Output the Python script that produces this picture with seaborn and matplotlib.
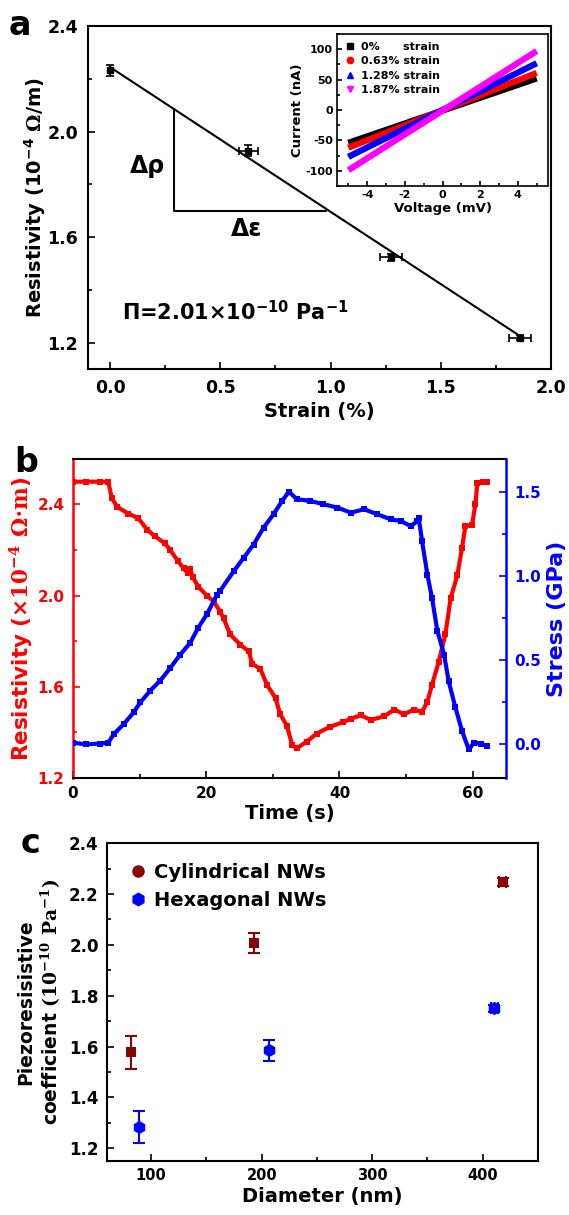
import matplotlib
matplotlib.use('Agg')
import matplotlib.pyplot as plt
import seaborn as sns
from matplotlib.lines import Line2D
from matplotlib.ticker import MultipleLocator

# ---------------- panel a : resistivity vs strain ----------------
strain = [0.0, 0.627, 1.276, 1.859]
resist = [2.232, 1.928, 1.523, 1.219]
strain_err = [0.0, 0.043, 0.05, 0.05]
resist_err = [0.02, 0.02, 0.012, 0.01]
fit_x = [0.0, 1.87]
fit_y = [2.244, 1.219]
tri_x = [0.29, 0.29, 0.98]
tri_y = [2.085, 1.70, 1.70]

# inset : I-V curves
iv_voltage = [-5.0, 5.0]
cur_0 = [-54, 52]
cur_063 = [-62, 61]
cur_128 = [-77, 77]
cur_187 = [-99, 97]
iv_labels = ['0%      strain', '0.63% strain', '1.28% strain', '1.87% strain']
iv_colors = ['black', 'red', 'blue', 'magenta']
iv_markers = ['s', 'o', '^', 'v']

# ---------------- panel b : resistivity / stress vs time ----------------
res_t = [0, 2, 4, 5.3, 5.8, 6.6, 8.3, 9.8, 11.1, 12.3, 13.8, 14.6, 15.8, 16.6,
         17.2, 17.6, 18.0, 18.8, 20.1, 21.1, 22.1, 22.6, 23.6, 25.1, 26.4, 26.9,
         28.1, 29.1, 30.4, 31.1, 32.1, 32.9, 33.6, 35.1, 36.6, 38.6, 40.6, 41.7,
         43.2, 44.7, 46.7, 48.2, 49.7, 51.2, 52.4, 53.2, 53.9, 54.9, 55.9, 56.7,
         57.7, 58.4, 58.9, 59.9, 60.4, 60.7, 61.5, 62.2]
res_v = [2.50, 2.50, 2.50, 2.50, 2.43, 2.39, 2.36, 2.34, 2.29, 2.26, 2.23, 2.20,
         2.15, 2.12, 2.10, 2.115, 2.08, 2.04, 2.00, 1.975, 1.93, 1.90, 1.83, 1.785,
         1.755, 1.70, 1.68, 1.61, 1.55, 1.48, 1.43, 1.345, 1.33, 1.36, 1.395, 1.425,
         1.445, 1.46, 1.475, 1.455, 1.47, 1.50, 1.48, 1.50, 1.49, 1.535, 1.61, 1.71,
         1.83, 1.99, 2.09, 2.21, 2.305, 2.31, 2.40, 2.495, 2.50, 2.50]
stress_t = [0, 2, 4, 5.3, 6.1, 7.6, 9.1, 10.1, 11.6, 13.1, 14.6, 16.1, 17.6, 18.8,
            20.1, 21.6, 22.1, 24.1, 25.6, 27.1, 28.6, 30.1, 31.4, 32.4, 33.6, 35.6,
            37.6, 39.7, 41.7, 43.7, 45.7, 47.7, 49.2, 50.7, 51.7, 51.9, 52.4, 53.2,
            53.9, 54.7, 55.7, 56.4, 57.4, 58.4, 59.4, 60.2, 61.2, 62.2]
stress_v = [0.01, 0.0, 0.005, 0.01, 0.06, 0.12, 0.19, 0.25, 0.32, 0.38, 0.455, 0.535,
            0.605, 0.695, 0.775, 0.89, 0.915, 1.03, 1.11, 1.19, 1.29, 1.37, 1.45, 1.505,
            1.46, 1.45, 1.43, 1.41, 1.38, 1.40, 1.37, 1.34, 1.33, 1.30, 1.33, 1.35,
            1.21, 1.01, 0.87, 0.675, 0.535, 0.375, 0.22, 0.08, -0.03, 0.01, 0.005, -0.01]

# ---------------- panel c : piezoresistive coefficient vs diameter ----------------
cyl_d = [82, 192.7, 418]
cyl_p = [1.577, 2.006, 2.247]
cyl_err = [0.064, 0.04, 0.015]
cyl_derr = [0, 0, 3]
hex_d = [89.4, 207, 410.6]
hex_p = [1.284, 1.586, 1.750]
hex_err = [0.064, 0.041, 0.015]
hex_derr = [0, 0, 3]

sns.set_theme(style='ticks')
plt.rcParams['font.family'] = ['DejaVu Sans']
plt.rcParams['font.weight'] = 'bold'
plt.rcParams['axes.labelweight'] = 'bold'
plt.rcParams['text.color'] = 'black'
plt.rcParams['axes.labelcolor'] = 'black'
plt.rcParams['xtick.color'] = 'black'
plt.rcParams['ytick.color'] = 'black'
plt.rcParams['axes.unicode_minus'] = False
plt.rcParams['mathtext.fontset'] = 'custom'
plt.rcParams['mathtext.rm'] = 'DejaVu Serif'
plt.rcParams['mathtext.it'] = 'DejaVu Serif:italic'
plt.rcParams['mathtext.bf'] = 'DejaVu Sans:bold'


def style_axes(ax, lw=1.5):
    for s in ax.spines.values():
        s.set_linewidth(lw)
        s.set_color('black')
    ax.tick_params(which='both', direction='in', top=False, right=False, width=1.2,
                   colors='black')
    ax.tick_params(which='major', length=5)
    ax.tick_params(which='minor', length=3)


fig = plt.figure(figsize=(5.69, 12.15), dpi=100)
ax_a = fig.add_axes([0.1547, 0.6963, 0.8137, 0.2823])
ax_in = fig.add_axes([0.5923, 0.8469, 0.3708, 0.1251])
ax_b = fig.add_axes([0.1283, 0.3597, 0.7610, 0.2626])
ax_c = fig.add_axes([0.1880, 0.0444, 0.7575, 0.2617])

# ---- panel a
style_axes(ax_a)
sns.lineplot(x=fit_x, y=fit_y, color='black', linewidth=1.5, ax=ax_a)
ax_a.plot(tri_x, tri_y, color='black', linewidth=1.5)
ax_a.errorbar(strain, resist, xerr=strain_err, yerr=resist_err, fmt='s', color='black',
              markersize=4, capsize=3, elinewidth=1.2, capthick=1.2)
ax_a.set_xlim(-0.1, 2.0)
ax_a.set_ylim(1.1, 2.4)
ax_a.set_xticks([0.0, 0.5, 1.0, 1.5, 2.0])
ax_a.set_yticks([1.2, 1.6, 2.0, 2.4])
ax_a.xaxis.set_minor_locator(MultipleLocator(0.25))
ax_a.yaxis.set_minor_locator(MultipleLocator(0.2))
ax_a.tick_params(labelsize=12.5, pad=7)
ax_a.set_xlabel('Strain (%)', fontsize=14, labelpad=4)
ax_a.set_ylabel('Resistivity (10$^{\\mathbf{-4}}$ $\\mathrm{\\Omega}$/m)', fontsize=14, labelpad=0)
ax_a.text(0.171, 1.868, 'Δρ', ha='center', va='center', fontsize=17, fontweight='bold')
ax_a.text(0.617, 1.63, 'Δε', ha='center', va='center', fontsize=17, fontweight='bold')
ax_a.text(0.054, 1.315, 'Π=2.01×10$^{\\mathbf{-10}}$ Pa$^{\\mathbf{-1}}$', ha='left',
          va='center', fontsize=15, fontweight='bold')

# ---- inset
style_axes(ax_in, lw=1.2)
for cur, col in zip([cur_0, cur_063, cur_128, cur_187], iv_colors):
    sns.lineplot(x=iv_voltage, y=cur, color=col, linewidth=4.5, ax=ax_in,
                 solid_capstyle='butt')
ax_in.set_xlim(-5.6, 5.6)
ax_in.set_ylim(-125, 125)
ax_in.set_xticks([-4, -2, 0, 2, 4])
ax_in.set_yticks([-100, -50, 0, 50, 100])
ax_in.xaxis.set_minor_locator(MultipleLocator(1))
ax_in.yaxis.set_minor_locator(MultipleLocator(25))
ax_in.tick_params(which='major', length=3.5, labelsize=8, pad=3)
ax_in.tick_params(which='minor', length=2)
ax_in.set_xlabel('Voltage (mV)', fontsize=9.5, labelpad=1)
ax_in.set_ylabel('Current (nA)', fontsize=9.5, labelpad=1)
iv_handles = [Line2D([], [], linestyle='none', marker=m, color=c, markersize=4.5)
              for m, c in zip(iv_markers, iv_colors)]
ax_in.legend(iv_handles, iv_labels, loc='upper left', frameon=False, fontsize=8,
             handletextpad=0.5, handlelength=1.0, labelspacing=0.4,
             borderaxespad=0.5, borderpad=0.2)

# ---- panel b
style_axes(ax_b)
ax_b2 = ax_b.twinx()
sns.lineplot(x=res_t, y=res_v, color='red', marker='s', markersize=4.5,
             markeredgewidth=0, linewidth=3, sort=False, estimator=None, ax=ax_b)
sns.lineplot(x=stress_t, y=stress_v, color='blue', marker='s', markersize=4.5,
             markeredgewidth=0, linewidth=3, sort=False, estimator=None, ax=ax_b2)
ax_b.set_xlim(0, 65)
ax_b.set_ylim(1.2, 2.6)
ax_b2.set_ylim(-0.2, 1.7)
ax_b.set_xticks([0, 20, 40, 60])
ax_b.set_yticks([1.2, 1.6, 2.0, 2.4])
ax_b2.set_yticks([0.0, 0.5, 1.0, 1.5])
ax_b.xaxis.set_minor_locator(MultipleLocator(10))
ax_b.yaxis.set_minor_locator(MultipleLocator(0.2))
ax_b2.yaxis.set_minor_locator(MultipleLocator(0.25))
ax_b.spines['right'].set_visible(False)
ax_b.spines['left'].set_color('red')
ax_b.spines['left'].set_linewidth(1.8)
for s in ['top', 'bottom', 'left']:
    ax_b2.spines[s].set_visible(False)
ax_b2.spines['right'].set_color('blue')
ax_b2.spines['right'].set_linewidth(1.8)
ax_b.tick_params(axis='y', which='both', colors='red')
ax_b.tick_params(labelsize=11, pad=6)
ax_b2.tick_params(which='both', direction='in', width=1.2, colors='blue', labelsize=11, pad=6)
ax_b2.tick_params(which='major', length=5)
ax_b2.tick_params(which='minor', length=3)
ax_b.set_xlabel('Time (s)', fontsize=14, labelpad=2)
ax_b.set_ylabel('Resistivity (×$\\mathrm{10^{-4}\\ \\Omega{\\cdot}m}$)', fontsize=15.5,
                color='red', labelpad=2)
ax_b2.set_ylabel('Stress (GPa)', fontsize=16, color='blue', labelpad=4)

# ---- panel c
style_axes(ax_c)
ax_c.errorbar(cyl_d, cyl_p, xerr=cyl_derr, yerr=cyl_err, fmt='none', ecolor='#8B0000',
              capsize=4, elinewidth=1.5, capthick=1.5)
ax_c.errorbar(hex_d, hex_p, xerr=hex_derr, yerr=hex_err, fmt='none', ecolor='blue',
              capsize=4, elinewidth=1.5, capthick=1.5)
sns.scatterplot(x=cyl_d, y=cyl_p, color='#8B0000', marker='s', s=55, linewidth=0,
                ax=ax_c, zorder=3)
sns.scatterplot(x=hex_d, y=hex_p, color='blue', marker='h', s=90, linewidth=0,
                ax=ax_c, zorder=3)
ax_c.set_xlim(60, 450)
ax_c.set_ylim(1.15, 2.4)
ax_c.set_xticks([100, 200, 300, 400])
ax_c.set_yticks([1.2, 1.4, 1.6, 1.8, 2.0, 2.2, 2.4])
ax_c.xaxis.set_minor_locator(MultipleLocator(50))
ax_c.yaxis.set_minor_locator(MultipleLocator(0.1))
ax_c.tick_params(axis='y', labelsize=12, pad=6)
ax_c.tick_params(axis='x', labelsize=10.5, pad=5)
ax_c.set_xlabel('Diameter (nm)', fontsize=14, labelpad=3)
ax_c.set_ylabel('Piezoresisistive\ncoefficient $\\mathrm{(10^{-10}\\ Pa^{-1})}$',
                fontsize=13.5, labelpad=4, multialignment='center')
c_handles = [Line2D([], [], linestyle='none', marker='o', color='#8B0000', markersize=8),
             Line2D([], [], linestyle='none', marker='h', color='blue', markersize=9)]
ax_c.legend(c_handles, ['Cylindrical NWs', 'Hexagonal NWs'], loc='upper left',
            frameon=False, fontsize=14, handletextpad=0.2, handlelength=1.2,
            labelspacing=0.5, borderaxespad=0.6)

# panel letters
fig.text(20 / 569, 1 - 35 / 1215, 'a', ha='center', va='baseline', fontsize=24, fontweight='bold')
fig.text(26 / 569, 1 - 472 / 1215, 'b', ha='center', va='baseline', fontsize=24, fontweight='bold')
fig.text(30 / 569, 1 - 853 / 1215, 'c', ha='center', va='baseline', fontsize=24, fontweight='bold')

fig.savefig('out.png', dpi=100)
